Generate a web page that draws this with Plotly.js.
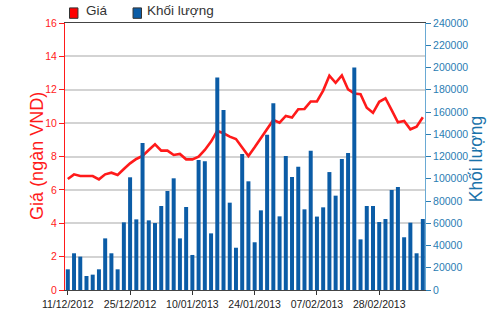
<!DOCTYPE html>
<html>
<head>
<meta charset="utf-8">
<script src="https://cdn.plot.ly/plotly-3.0.1.min.js"></script>
<style>html,body{margin:0;padding:0;background:#fff;}#chart{width:500px;height:312px;}</style>
</head>
<body>
<div id="chart"></div>
<script>
var dates = [
  "11/12/2012","12/12/2012","13/12/2012","14/12/2012","17/12/2012","18/12/2012","19/12/2012","20/12/2012","21/12/2012","24/12/2012",
  "25/12/2012","26/12/2012","27/12/2012","28/12/2012","02/01/2013","03/01/2013","04/01/2013","07/01/2013","08/01/2013","09/01/2013",
  "10/01/2013","11/01/2013","14/01/2013","15/01/2013","16/01/2013","17/01/2013","18/01/2013","21/01/2013","22/01/2013","23/01/2013",
  "24/01/2013","25/01/2013","28/01/2013","29/01/2013","30/01/2013","31/01/2013","01/02/2013","04/02/2013","05/02/2013","06/02/2013",
  "07/02/2013","08/02/2013","18/02/2013","19/02/2013","20/02/2013","21/02/2013","22/02/2013","25/02/2013","26/02/2013","27/02/2013",
  "28/02/2013","01/03/2013","04/03/2013","05/03/2013","06/03/2013","07/03/2013","08/03/2013","11/03/2013"
];
var volume = [
  18600,33000,30000,12600,13800,18600,46400,33000,18600,60800,
  101300,63500,132100,62600,60200,75500,89000,100400,46400,74600,
  31500,116900,115700,50900,190900,161800,78500,38000,122200,97700,
  42900,71600,139600,167800,66200,120400,101600,110800,72500,125200,
  66000,74300,106000,84800,117800,123200,200000,45500,75500,75500,
  61100,63800,89900,92600,47400,60500,33000,63800
];
var price = [
  6.65,6.93,6.83,6.83,6.83,6.63,6.93,7.03,6.89,7.25,
  7.59,7.85,8.03,8.39,8.73,8.35,8.35,8.09,8.15,7.83,
  7.83,7.99,8.39,8.89,9.53,9.39,9.19,9.05,8.53,8.03,
  8.55,9.09,9.65,10.19,10.03,10.43,10.33,10.83,10.85,11.30,
  11.30,11.95,12.84,12.42,12.86,12.02,11.78,11.74,10.92,10.62,
  11.28,11.49,10.78,10.05,10.13,9.63,9.79,10.35
];
var xTickLabels = ["11/12/2012","25/12/2012","10/01/2013","24/01/2013","07/02/2013","28/02/2013"];
var legendLabels = ["Giá","Khối lượng"];
var priceTitle = "Giá (ngàn VND)";
var volumeTitle = "Khối lượng";

var RED = "#ff1a1a", BLUE = "#0b5ca6", RBLUE = "#2a7db3";
var FONT = "Arial, Liberation Sans, sans-serif";

var traces = [
  {type:"bar", x:dates, y:volume, yaxis:"y2", name:legendLabels[1],
   marker:{color:BLUE, line:{width:0}}, hoverinfo:"x+y"},
  {type:"scatter", mode:"lines", x:dates, y:price, yaxis:"y", name:legendLabels[0],
   line:{color:RED, width:2.6}}
];

var layout = {
  width:500, height:312,
  margin:{l:65, r:75, t:23, b:22, pad:0},
  paper_bgcolor:"#fff", plot_bgcolor:"#fff",
  showlegend:false,
  bargap:0.36,
  font:{family:FONT, size:10.5, color:"#222"},
  xaxis:{type:"category", range:[-0.45,57.35], tickmode:"array", tickvals:xTickLabels, ticktext:xTickLabels,
    ticks:"outside", ticklen:4, tickcolor:"#333", showgrid:false, showline:true, linecolor:"#444", linewidth:1.3,
    mirror:true, tickfont:{family:FONT, size:10.5, color:"#222"}, fixedrange:true, zeroline:false},
  yaxis:{range:[0,16], dtick:2, tick0:0, ticks:"outside", ticklen:5, tickcolor:RED, showline:true, linecolor:RED,
    linewidth:1, gridcolor:"#d3d3d3", gridwidth:2, zeroline:false, tickfont:{family:FONT, size:10.5, color:RED}},
  yaxis2:{range:[0,240000], dtick:20000, tick0:0, overlaying:"y", side:"right", ticks:"outside", ticklen:5,
    tickcolor:RBLUE, showline:true, linecolor:"#6aaad4", linewidth:1, showgrid:false, zeroline:false,
    tickformat:"d", separatethousands:false,
    tickfont:{family:FONT, size:10.5, color:RBLUE}},
  annotations:[
    {xref:"paper", yref:"paper", x:-0.078, y:0.502, xanchor:"center", yanchor:"middle", textangle:-90,
     text:priceTitle, showarrow:false, font:{family:FONT, size:18, color:RED}},
    {xref:"paper", yref:"paper", x:1.142, y:0.49, xanchor:"center", yanchor:"middle", textangle:-90,
     text:volumeTitle, showarrow:false, font:{family:FONT, size:17.5, color:"#1a72aa"}},
    {xref:"paper", yref:"paper", x:0.052, y:1.045, xanchor:"left", yanchor:"middle",
     text:legendLabels[0], showarrow:false, font:{family:FONT, size:13.5, color:"#333"}},
    {xref:"paper", yref:"paper", x:0.222, y:1.045, xanchor:"left", yanchor:"middle",
     text:legendLabels[1], showarrow:false, font:{family:FONT, size:13.5, color:"#333"}}
  ],
  shapes:[
    {type:"rect", xref:"paper", yref:"paper", x0:0.0125, x1:0.036, y0:1.0175, y1:1.0565,
     fillcolor:"#ff0000", line:{color:"#333", width:1}},
    {type:"rect", xref:"paper", yref:"paper", x0:0.189, x1:0.2125, y0:1.0175, y1:1.0565,
     fillcolor:BLUE, line:{color:"#333", width:1}}
  ]
};

Plotly.newPlot("chart", traces, layout, {displayModeBar:false, staticPlot:true});
</script>
</body>
</html>
